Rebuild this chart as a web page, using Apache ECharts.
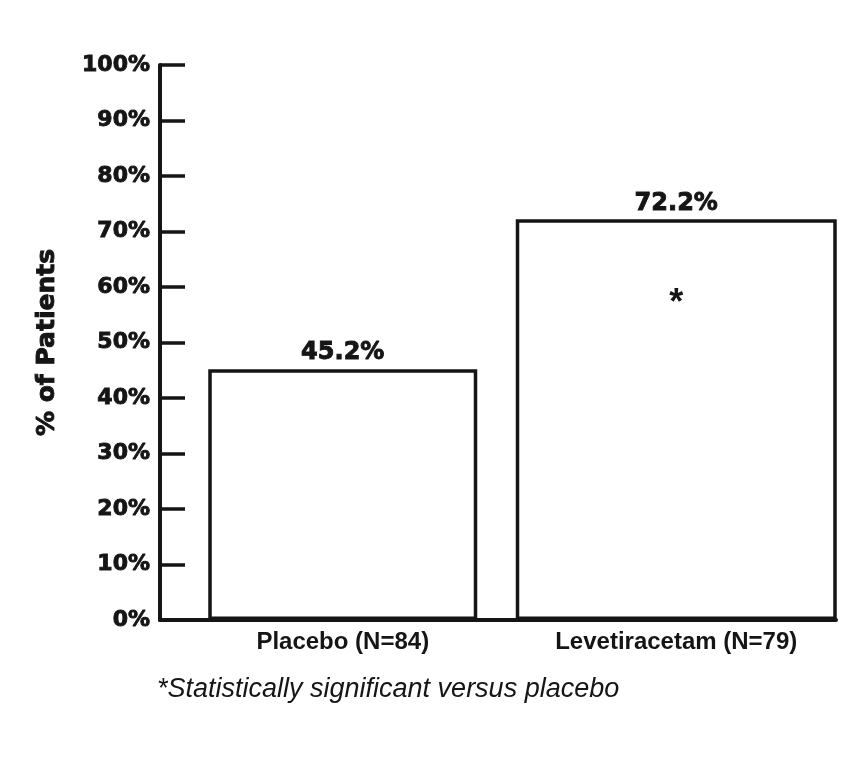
<!DOCTYPE html>
<html>
<head>
<meta charset="utf-8">
<script src="https://cdn.jsdelivr.net/npm/echarts@6/dist/echarts.min.js"></script>
<style>html,body{margin:0;padding:0;background:#fff}#c{width:860px;height:760px}</style>
</head>
<body>
<div id="c"></div>
<script>
const categories = ['Placebo (N=84)', 'Levetiracetam (N=79)'];
const responseRates = [45.2, 72.2];
const significantFlags = ['', '*'];
const yTickValues = [0, 10, 20, 30, 40, 50, 60, 70, 80, 90, 100];
const yAxisTitle = '% of Patients';
const footnoteText = '*Statistically significant versus placebo';

const INK = '#151515';
const chart = echarts.init(document.getElementById('c'), null, {renderer: 'canvas'});

const placeboData = categories.map((c, i) => i === 0 ? responseRates[i] : '-');
const leveData = categories.map((c, i) => i === 1 ? responseRates[i] : '-');
const starData = categories.map((c, i) => significantFlags[i] ? responseRates[i] : '-');

const heavy = {fontFamily: 'DejaVu Sans', fontWeight: 'bold', color: INK, textBorderColor: INK, textBorderWidth: 0.9};

const valueLabel = Object.assign({
  show: true, position: 'top', distance: 4, fontSize: 24,
  formatter: p => p.value.toFixed(1) + '%'
}, heavy);

const option = {
  animation: false,
  backgroundColor: '#fff',
  title: {
    text: footnoteText, left: 157, top: 676, padding: 0,
    textStyle: {fontFamily: 'Liberation Sans', fontStyle: 'italic', fontWeight: 'normal', fontSize: 27, color: INK}
  },
  grid: [
    {left: 160, right: 24, top: 65, bottom: 140, containLabel: false},
    {left: 176, right: 17, top: 65, bottom: 140, containLabel: false}
  ],
  xAxis: [
    {gridIndex: 0, type: 'category', data: categories,
     axisLine: {show: true, lineStyle: {color: INK, width: 4}},
     axisTick: {show: false}, axisLabel: {show: false}, splitLine: {show: false}},
    {gridIndex: 1, type: 'category', data: categories,
     axisLine: {show: false}, axisTick: {show: false}, splitLine: {show: false},
     axisLabel: {show: true, interval: 0, hideOverlap: false, margin: 10, color: INK,
       fontFamily: 'Liberation Sans', fontWeight: 'bold', fontSize: 24}},
    {gridIndex: 1, type: 'category', data: categories, show: false}
  ],
  yAxis: [
    {gridIndex: 0, type: 'value', min: yTickValues[0], max: yTickValues[yTickValues.length - 1], interval: 10,
     name: yAxisTitle, nameLocation: 'middle', nameGap: 100,
     nameTextStyle: Object.assign({fontSize: 25}, heavy),
     axisLine: {show: true, lineStyle: {color: INK, width: 4}},
     axisTick: {show: true, inside: true, length: 25, lineStyle: {color: INK, width: 3.5}},
     axisLabel: Object.assign({margin: 10, fontSize: 22, formatter: '{value}%'}, heavy),
     splitLine: {show: false}},
    {gridIndex: 1, type: 'value', min: yTickValues[0], max: yTickValues[yTickValues.length - 1], interval: 10, show: false, splitLine: {show: false}}
  ],
  series: [
    {type: 'bar', name: categories[0], xAxisIndex: 1, yAxisIndex: 1, data: placeboData, barWidth: 269,
     itemStyle: {color: '#fff', borderColor: INK, borderWidth: 3.5}, label: valueLabel},
    {type: 'bar', name: categories[1], xAxisIndex: 2, yAxisIndex: 1, data: leveData, barWidth: 321,
     itemStyle: {color: '#fff', borderColor: INK, borderWidth: 3.5}, label: valueLabel},
    {type: 'bar', name: 'sig', xAxisIndex: 2, yAxisIndex: 1, data: starData, barWidth: 321, barGap: '-100%',
     silent: true, z: 3,
     itemStyle: {color: 'rgba(0,0,0,0)', borderWidth: 0},
     label: {show: true, position: 'insideTop', distance: 67, color: INK,
       fontFamily: 'Liberation Sans', fontWeight: 'bold', fontSize: 36,
       formatter: p => significantFlags[p.dataIndex]}}
  ]
};
chart.setOption(option);
</script>
</body>
</html>
